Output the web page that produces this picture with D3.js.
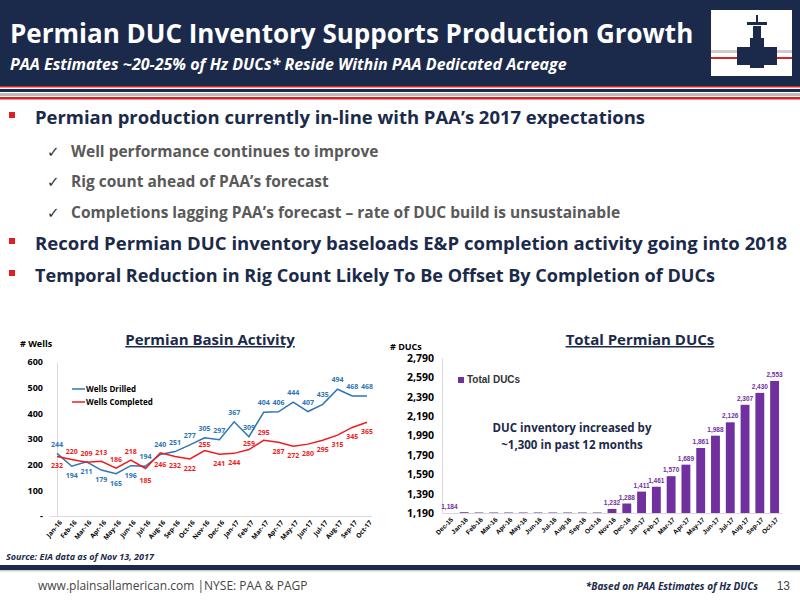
<!DOCTYPE html>
<html><head><meta charset="utf-8">
<script src="https://cdn.jsdelivr.net/npm/d3@7"></script>
<style>body{margin:0;background:#fff}svg{display:block}</style>
</head><body>
<svg id="slide" width="800" height="600"></svg>
<script>
// left chart data
var months = ["Jan-16","Feb-16","Mar-16","Apr-16","May-16","Jun-16","Jul-16","Aug-16","Sep-16","Oct-16","Nov-16","Dec-16",
  "Jan-17","Feb-17","Mar-17","Apr-17","May-17","Jun-17","Jul-17","Aug-17","Sep-17","Oct-17"];
var wellsDrilled = [244,194,211,179,165,196,194,240,251,277,305,297,367,309,404,406,444,407,435,494,468,468];
var wellsCompleted = [232,220,209,213,186,218,185,246,232,222,255,241,244,259,295,287,272,280,295,315,345,365];
var wellTicks = [0,100,200,300,400,500,600];

// right chart data
var ducMonths = ["Dec-15","Jan-16","Feb-16","Mar-16","Apr-16","May-16","Jun-16","Jul-16","Aug-16","Sep-16","Oct-16","Nov-16","Dec-16",
  "Jan-17","Feb-17","Mar-17","Apr-17","May-17","Jun-17","Jul-17","Aug-17","Sep-17","Oct-17"];
var totalDucs = [1184,1198,1195,1195,1195,1195,1195,1195,1195,1195,1195,1232,1288,1411,1461,1570,1689,1861,1988,2126,2307,2430,2553];
var ducLabelShown = [1,0,0,0,0,0,0,0,0,0,0,1,1,1,1,1,1,1,1,1,1,1,1];
var ducTicks = [1190,1390,1590,1790,1990,2190,2390,2590,2790];

var svg = d3.select("#slide");
var navy = "#1b2a4a", font = "'Open Sans', sans-serif";

// header
svg.append("rect").attr("width",800).attr("height",86).attr("fill",navy);
svg.append("rect").attr("y",86).attr("width",800).attr("height",1.5).attr("fill","#d22");
svg.append("rect").attr("y",89).attr("width",800).attr("height",3).attr("fill",navy);
svg.append("rect").attr("y",93).attr("width",800).attr("height",3).attr("fill","#bbb");
svg.append("rect").attr("y",97).attr("width",800).attr("height",2.5).attr("fill","#e02020");
svg.append("text").attr("x",10).attr("y",43).attr("fill","#fff").attr("font-family",font)
  .attr("font-weight","bold").attr("font-size",26).text("Permian DUC Inventory Supports Production Growth");
svg.append("text").attr("x",10).attr("y",70).attr("fill","#fff").attr("font-family",font)
  .attr("font-weight","bold").attr("font-style","italic").attr("font-size",16)
  .text("PAA Estimates ~20-25% of Hz DUCs* Reside Within PAA Dedicated Acreage");
// logo
var logo = svg.append("g");
logo.append("rect").attr("x",711).attr("y",10).attr("width",81).attr("height",66).attr("fill","#fff");
logo.append("rect").attr("x",711).attr("y",50).attr("width",81).attr("height",3).attr("fill","#ccc");
logo.append("rect").attr("x",711).attr("y",57).attr("width",81).attr("height",2).attr("fill","#d22");
logo.append("rect").attr("x",737).attr("y",47).attr("width",40).attr("height",18).attr("fill",navy);
logo.append("rect").attr("x",750).attr("y",38).attr("width",14).attr("height",30).attr("fill",navy);
logo.append("rect").attr("x",753).attr("y",26).attr("width",8).attr("height",14).attr("fill",navy);
logo.append("rect").attr("x",747).attr("y",22).attr("width",20).attr("height",3).attr("fill",navy);
logo.append("rect").attr("x",756).attr("y",15).attr("width",2).attr("height",10).attr("fill",navy);

// bullets
var bullets = [
  {lvl:0,y:124,t:"Permian production currently in-line with PAA\u2019s 2017 expectations"},
  {lvl:1,y:157,t:"Well performance continues to improve"},
  {lvl:1,y:187,t:"Rig count ahead of PAA\u2019s forecast"},
  {lvl:1,y:218,t:"Completions lagging PAA\u2019s forecast \u2013 rate of DUC build is unsustainable"},
  {lvl:0,y:250,t:"Record Permian DUC inventory baseloads E&P completion activity going into 2018"},
  {lvl:0,y:282,t:"Temporal Reduction in Rig Count Likely To Be Offset By Completion of DUCs"}];
var mainLen = [610, 0, 0, 0, 752, 680];
bullets.forEach(function(b, i){
  if (b.lvl == 0) {
    svg.append("rect").attr("x",9).attr("y",b.y-12).attr("width",6).attr("height",6).attr("fill","#e02020");
    svg.append("text").attr("x",35).attr("y",b.y).attr("font-family",font).attr("font-weight","bold")
      .attr("font-size",18).attr("fill",navy).attr("textLength",mainLen[i]).attr("lengthAdjust","spacingAndGlyphs").text(b.t);
  } else {
    svg.append("text").attr("x",47).attr("y",b.y).attr("font-family","DejaVu Sans").attr("font-size",15).attr("fill","#333").text("\u2713");
    svg.append("text").attr("x",71).attr("y",b.y).attr("font-family",font).attr("font-weight","bold")
      .attr("font-size",15.5).attr("fill","#595959").text(b.t);
  }
});

// ---- left chart
var x1 = d3.scalePoint().domain(months).range([57,367]);
var y1 = d3.scaleLinear().domain([0,600]).range([516,362]);
svg.append("text").attr("x",210).attr("y",345).attr("text-anchor","middle").attr("font-family",font)
  .attr("font-weight","bold").attr("font-size",15).attr("fill",navy).attr("text-decoration","underline").text("Permian Basin Activity");
svg.append("text").attr("x",20).attr("y",347).attr("font-family",font).attr("font-weight","bold").attr("font-size",9).text("# Wells");
var ya1 = svg.append("g").attr("transform","translate(57,0)")
  .call(d3.axisLeft(y1).tickValues(wellTicks).tickSize(0).tickPadding(14).tickFormat(function(d){return d==0?"-":d;}));
ya1.select(".domain").attr("stroke","#d9d9d9");
ya1.selectAll("text").attr("font-family",font).attr("font-weight","bold").attr("font-size",9);
var xa1 = svg.append("g").attr("transform","translate(0,516)").call(d3.axisBottom(x1).tickSize(0).tickPadding(4));
xa1.select(".domain").attr("stroke","#d9d9d9").attr("d","M50,0.5H372");
xa1.selectAll("text").attr("font-family",font).attr("font-size",6.5).attr("font-weight","bold")
  .attr("text-anchor","end").attr("transform","rotate(-50)").attr("dx","-2").attr("dy","4");

var line1 = d3.line().x(function(d,i){return x1(months[i]);}).y(function(d){return y1(d);});
[[wellsDrilled,"#2e75b6"],[wellsCompleted,"#ee1c1c"]].forEach(function(s){
  svg.append("path").datum(s[0]).attr("d",line1).attr("fill","none").attr("stroke",s[1]).attr("stroke-width",1.5);
});
var blueOff = [-6,12,12,12,12,12,-7,-7,-7,-7,-7,-7,-7,-7,-7,-7,-7,-7,-7,-7,-7,-7];
var redOff  = [12,-6,-6,-6,-6,-6,14,14,12,12,-4,12,12,-4,-5,12,12,12,12,12,12,12];
svg.selectAll(".lblD").data(wellsDrilled).enter().append("text")
  .attr("x",function(d,i){return x1(months[i]);}).attr("y",function(d,i){return y1(d)+blueOff[i];})
  .attr("text-anchor","middle").attr("font-family",font).attr("font-weight","bold").attr("font-size",7).attr("fill","#2e75b6")
  .text(function(d){return d;});
svg.selectAll(".lblC").data(wellsCompleted).enter().append("text")
  .attr("x",function(d,i){return x1(months[i]);}).attr("y",function(d,i){return y1(d)+redOff[i];})
  .attr("text-anchor","middle").attr("font-family",font).attr("font-weight","bold").attr("font-size",7).attr("fill","#ee1c1c")
  .text(function(d){return d;});
[["Wells Drilled","#2e75b6",392],["Wells Completed","#ee1c1c",405]].forEach(function(l){
  svg.append("line").attr("x1",72).attr("x2",85).attr("y1",l[2]-3).attr("y2",l[2]-3).attr("stroke",l[1]).attr("stroke-width",1.5);
  svg.append("text").attr("x",86).attr("y",l[2]).attr("font-family",font).attr("font-size",8).attr("font-weight","bold").text(l[0]);
});
svg.append("text").attr("x",6).attr("y",560).attr("font-family",font).attr("font-weight","bold").attr("font-style","italic")
  .attr("font-size",9).attr("fill",navy).text("Source: EIA data as of Nov 13, 2017");

// ---- right chart
var x2 = d3.scaleBand().domain(ducMonths).range([442,782]).paddingInner(0.4).paddingOuter(0.2);
var y2 = d3.scaleLinear().domain([1190,2790]).range([513,358]);
svg.append("text").attr("x",640).attr("y",345).attr("text-anchor","middle").attr("font-family",font)
  .attr("font-weight","bold").attr("font-size",15).attr("fill",navy).attr("text-decoration","underline").text("Total Permian DUCs");
svg.append("text").attr("x",390).attr("y",350).attr("font-family",font).attr("font-weight","bold").attr("font-size",9).text("# DUCs");
var ya2 = svg.append("g").attr("transform","translate(442,0)")
  .call(d3.axisLeft(y2).tickValues(ducTicks).tickSize(0).tickPadding(8).tickFormat(d3.format(",")));
ya2.select(".domain").attr("stroke","#d9d9d9");
ya2.selectAll("text").attr("font-family",font).attr("font-weight","bold").attr("font-size",10.5);
var xa2 = svg.append("g").attr("transform","translate(0,513)").call(d3.axisBottom(x2).tickSize(0).tickPadding(4));
xa2.select(".domain").attr("stroke","#d9d9d9");
xa2.selectAll("text").attr("font-family","Liberation Sans").attr("font-size",6.5).attr("font-weight","bold")
  .attr("text-anchor","end").attr("transform","rotate(-45)").attr("dx","-2").attr("dy","4");
svg.selectAll(".bar").data(totalDucs).enter().append("rect")
  .attr("x",function(d,i){return x2(ducMonths[i]);}).attr("width",x2.bandwidth())
  .attr("y",function(d){return y2(Math.max(d,1190));}).attr("height",function(d){return 513-y2(Math.max(d,1190));})
  .attr("fill","#7030a0");
svg.selectAll(".dl").data(totalDucs).enter().filter(function(d,i){return ducLabelShown[i];}).append("text")
  .attr("x",function(d,i){return x2(ducMonths[totalDucs.indexOf(d)])+x2.bandwidth()/2;})
  .attr("y",function(d){return y2(Math.max(d,1190))-4;})
  .attr("text-anchor","middle").attr("font-family","Liberation Sans").attr("font-weight","bold").attr("font-size",6.5)
  .attr("fill","#7030a0").text(d3.format(","));
svg.append("rect").attr("x",458).attr("y",377).attr("width",6).attr("height",6).attr("fill","#7030a0");
svg.append("text").attr("x",467).attr("y",383).attr("font-family","Liberation Sans").attr("font-weight","bold").attr("font-size",10).attr("fill","#333").text("Total DUCs");
svg.append("text").attr("x",572).attr("y",432).attr("text-anchor","middle").attr("font-family",font).attr("font-weight","bold")
  .attr("font-size",11.5).attr("fill",navy).text("DUC inventory increased by");
svg.append("text").attr("x",572).attr("y",449).attr("text-anchor","middle").attr("font-family",font).attr("font-weight","bold")
  .attr("font-size",11.5).attr("fill",navy).text("~1,300 in past 12 months");

// footer
svg.append("rect").attr("y",565).attr("width",800).attr("height",5).attr("fill",navy);
svg.append("rect").attr("y",570).attr("width",800).attr("height",1.5).attr("fill","#ccc");
svg.append("text").attr("x",38).attr("y",590).attr("font-family",font).attr("font-size",12).attr("fill","#444")
  .text("www.plainsallamerican.com |NYSE: PAA & PAGP");
svg.append("text").attr("x",758).attr("y",590).attr("text-anchor","end").attr("font-family",font).attr("font-weight","bold")
  .attr("font-style","italic").attr("font-size",10).attr("fill",navy).text("*Based on PAA Estimates of Hz DUCs");
svg.append("text").attr("x",790).attr("y",590).attr("text-anchor","end").attr("font-family","Liberation Sans")
  .attr("font-size",12).attr("fill","#444").text("13");
</script>
</body></html>
